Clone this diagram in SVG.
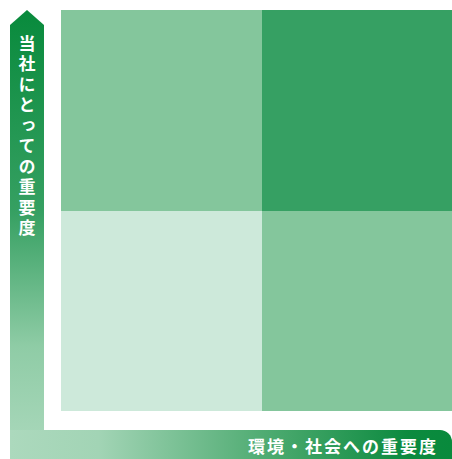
<svg xmlns="http://www.w3.org/2000/svg" width="452" height="459" viewBox="0 0 452 459">
  <style>
    .lbl { fill: #ffffff; font-family: "Noto Sans CJK JP", "Noto Sans CJK SC", sans-serif; font-weight: 700; font-size: 17px; }
  </style>
  <defs>
    <linearGradient id="gv" gradientUnits="userSpaceOnUse" x1="0" y1="10" x2="0" y2="459">
      <stop offset="0" stop-color="#088a3c"/>
      <stop offset="0.45" stop-color="#36a062"/>
      <stop offset="0.75" stop-color="#8fcca6"/>
      <stop offset="1" stop-color="#acd9bd"/>
    </linearGradient>
    <linearGradient id="gh" gradientUnits="userSpaceOnUse" x1="10" y1="0" x2="452" y2="0">
      <stop offset="0" stop-color="#acd9bd"/>
      <stop offset="0.2" stop-color="#a2d4b5"/>
      <stop offset="0.6" stop-color="#4aa96e"/>
      <stop offset="0.9" stop-color="#0c8a3f"/>
      <stop offset="1" stop-color="#088a3c"/>
    </linearGradient>
  </defs>
  <rect width="452" height="459" fill="#ffffff"/>
  <g id="quadrants">
    <rect id="q-tl" x="61" y="10" width="201" height="201" fill="#84c69c"/>
    <rect id="q-tr" x="262" y="10" width="190" height="201" fill="#36a063"/>
    <rect id="q-bl" x="61" y="211" width="201" height="200" fill="#cde9da"/>
    <rect id="q-br" x="262" y="211" width="190" height="200" fill="#84c69c"/>
  </g>
  <g id="axes">
    <g id="axis-y">
      <path d="M27,10 L44,25 L44,459 L10,459 L10,25 Z" fill="url(#gv)"/>
      <text class="lbl" x="27" y="35" writing-mode="vertical-rl" style="writing-mode:vertical-rl;letter-spacing:3.5px">当社にとっての重要度</text>
    </g>
    <g id="axis-x">
      <path d="M10,430 H440 A12,12 0 0 1 452,442 V459 H10 Z" fill="url(#gh)"/>
      <text class="lbl" x="248" y="453" style="letter-spacing:2px">環境・社会への重要度</text>
    </g>
  </g>
</svg>
